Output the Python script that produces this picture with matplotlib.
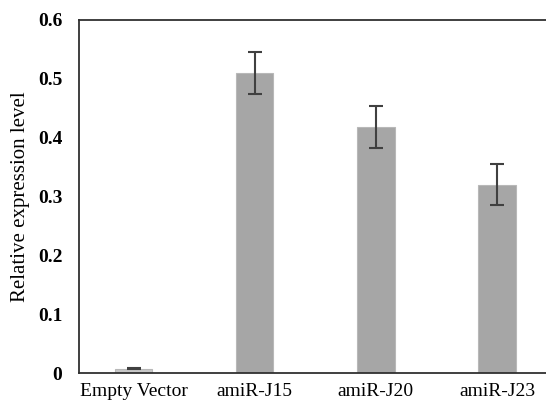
import matplotlib
matplotlib.use("Agg")
import matplotlib.pyplot as plt

categories = ["Empty Vector", "amiR-J15", "amiR-J20", "amiR-J23"]
values = [0.007, 0.510, 0.418, 0.320]
errors = [0.001, 0.036, 0.035, 0.035]
yticks = [0, 0.1, 0.2, 0.3, 0.4, 0.5, 0.6]
ytick_labels = ["0", "0.1", "0.2", "0.3", "0.4", "0.5", "0.6"]

plt.rcParams['font.family'] = ['Liberation Serif', 'DejaVu Serif']

fig = plt.figure(figsize=(5.46, 4.05), dpi=100)
ax = fig.add_axes([79/546, 1 - 373/405, 1 - 79/546 + 0.01, (373 - 20)/405])

x = list(range(len(categories)))
colors = ["#c8c8c8", "#a6a6a6", "#a6a6a6", "#a6a6a6"]
ax.bar(x, values, width=0.31, color=colors, edgecolor="#b8b8b8", linewidth=0.8,
       yerr=errors, error_kw=dict(ecolor="#404040", elinewidth=1.5, capsize=5, capthick=1.5))

ax.set_xlim(-0.45, 3.45)
ax.set_ylim(0, 0.6)
ax.set_yticks(yticks)
ax.set_yticklabels(ytick_labels, fontsize=14, fontweight="bold")
ax.set_xticks(x)
ax.set_xticklabels(categories, fontsize=14)
ax.tick_params(axis="y", length=0, pad=12)
ax.tick_params(axis="x", length=0, pad=7)
ax.set_ylabel("Relative expression level", fontsize=15, labelpad=6)

for s in ["left", "top", "bottom"]:
    ax.spines[s].set_color("#303030")
    ax.spines[s].set_linewidth(1.3)
ax.spines["right"].set_visible(False)

fig.savefig("out.png", dpi=100)
